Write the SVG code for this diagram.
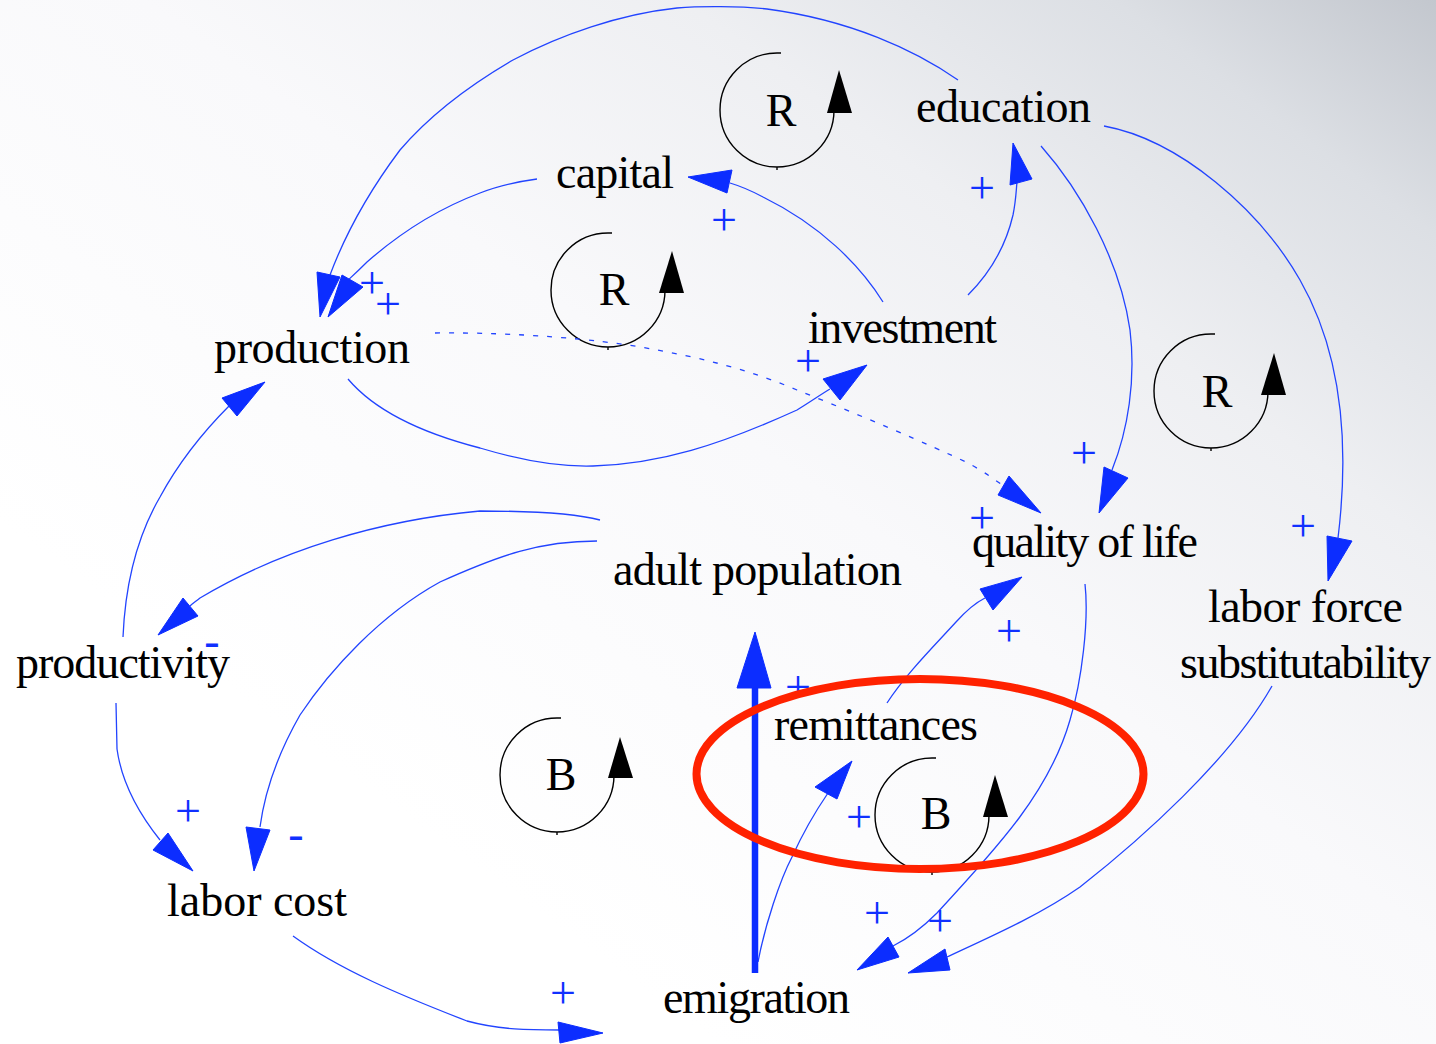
<svg xmlns="http://www.w3.org/2000/svg" width="1436" height="1044" viewBox="0 0 1436 1044">
<defs>
<linearGradient id="bg" x1="1" y1="0" x2="0.25" y2="0.75">
<stop offset="0" stop-color="#c3c7ce"/>
<stop offset="0.15" stop-color="#dcdfe4"/>
<stop offset="0.35" stop-color="#eeeff2"/>
<stop offset="0.6" stop-color="#f9f9fb"/>
<stop offset="1" stop-color="#ffffff"/>
</linearGradient>
<style>
.lbl{font-family:"Liberation Serif","Times New Roman",serif;font-size:46px;fill:#000}
.pol{font-family:"Liberation Serif","Times New Roman",serif;font-size:46px;fill:#1030ff;text-anchor:middle}
.ln{fill:none;stroke:#2244ff;stroke-width:1.3}
.dot{fill:none;stroke:#2244ff;stroke-width:1.3;stroke-dasharray:5 9}
.ah{fill:#0c2dff;stroke:#0c2dff;stroke-width:1;stroke-linejoin:miter}
.loop{fill:none;stroke:#000;stroke-width:1.4}
.lah{fill:#000}
.lt{font-family:"Liberation Serif","Times New Roman",serif;font-size:46px;fill:#000;text-anchor:middle}
</style>
</defs>
<rect x="0" y="0" width="1436" height="1044" fill="url(#bg)"/>

<g id="loops">
<g id="loop-r1">
<path class="loop" d="M781,53 L777,53 A57,57 0 1 0 834,110 L834,113 M777,167 L777,170"/>
<polygon class="lah" points="827,113 852,113 839,70"/>
<text class="lt" x="781" y="126">R</text>
</g>
<g id="loop-r2">
<path class="loop" d="M612,233 L608,233 A57,57 0 1 0 665,290 L665,293 M608,347 L608,350"/>
<polygon class="lah" points="659,293 684,293 672,251"/>
<text class="lt" x="614" y="305">R</text>
</g>
<g id="loop-r3">
<path class="loop" d="M1215,334 L1211,334 A57,57 0 1 0 1268,391 L1268,395 M1211,448 L1211,451"/>
<polygon class="lah" points="1261,395 1286,395 1274,353"/>
<text class="lt" x="1217" y="407">R</text>
</g>
<g id="loop-b1">
<path class="loop" d="M561,718 L557,718 A57,57 0 1 0 614,775 L614,778 M557,832 L557,835"/>
<polygon class="lah" points="608,778 633,778 620,737"/>
<text class="lt" x="561" y="790">B</text>
</g>
<g id="loop-b2">
<path class="loop" d="M936,758 L932,758 A57,57 0 1 0 989,815 L989,817 M932,872 L932,875"/>
<polygon class="lah" points="983,817 1008,817 995,775"/>
<text class="lt" x="936" y="829">B</text>
</g>
</g>

<g id="connectors">
<path class="ln" d="M958,80 C915,50 850,20 767,9 C740,6 700,6 677,8 C620,14 560,35 513,60 C470,85 430,115 400,150 C370,190 345,235 330,275"/>
<polygon class="ah" points="317,272 340,277 320,317"/>
<path class="ln" d="M537,179 C515,182 495,187 480,193 C440,208 400,233 367,262 C355,274 348,280 345,283"/>
<polygon class="ah" points="342,275 363,287 328,317"/>
<path class="ln" d="M883,302 C860,265 820,225 763,197 C750,190 740,186 730,183"/>
<polygon class="ah" points="732,170 727,193 688,177"/>
<path class="ln" d="M968,295 C990,273 1006,245 1013,215 C1016,200 1016,192 1017,182"/>
<polygon class="ah" points="1010,185 1032,179 1013,143"/>
<path class="ln" d="M348,379 C370,405 410,430 480,448 C520,460 560,467 593,466 C660,464 720,445 797,410 C810,402 820,395 830,389"/>
<polygon class="ah" points="823,379 867,365 840,400"/>
<path class="dot" d="M435,333 C520,332 600,340 640,347 C700,357 750,370 797,390 C860,415 930,445 966,462 C985,472 995,480 1005,487"/>
<polygon class="ah" points="998,495 1009,476 1041,513"/>
<path class="ln" d="M1041,146 C1080,190 1120,260 1130,330 C1136,380 1128,430 1112,470"/>
<polygon class="ah" points="1104,467 1128,478 1099,513"/>
<path class="ln" d="M1104,126 C1180,140 1260,210 1300,280 C1340,350 1350,440 1338,538"/>
<polygon class="ah" points="1327,536 1352,541 1328,581"/>
<path class="ln" d="M600,520 C570,512 520,511 480,511 C380,520 280,550 200,598 C195,602 192,604 190,606"/>
<polygon class="ah" points="183,598 198,616 158,635"/>
<path class="ln" d="M597,541 C540,541 500,555 440,582 C380,615 330,670 300,715 C280,750 265,790 260,827"/>
<polygon class="ah" points="246,827 270,830 254,871"/>
<path class="ln" d="M123,637 C125,590 135,540 160,497 C180,460 205,430 230,405"/>
<polygon class="ah" points="222,398 237,416 265,382"/>
<path class="ln" d="M116,703 L117,749 C122,785 140,815 160,840"/>
<polygon class="ah" points="153,850 168,833 193,871"/>
<path class="ln" d="M293,936 C340,970 400,995 467,1021 C500,1030 530,1030 560,1030"/>
<polygon class="ah" points="558,1022 560,1043 603,1033"/>
<path class="ln" d="M758,962 C765,925 780,880 792,857 C802,835 815,812 828,793"/>
<polygon class="ah" points="815,787 837,799 852,761"/>
<path class="ln" d="M887,703 C905,675 935,645 956,622 C965,612 975,603 985,598"/>
<polygon class="ah" points="980,589 993,610 1022,577"/>
<path class="ln" d="M1085,584 C1089,620 1082,680 1070,720 C1050,790 1000,845 937,913 C920,930 905,940 893,946"/>
<polygon class="ah" points="888,937 899,957 857,970"/>
<path class="ln" d="M1272,686 C1230,760 1140,840 1080,887 C1040,915 990,937 947,957"/>
<polygon class="ah" points="945,949 950,970 908,973"/>
<line x1="755" y1="973" x2="755" y2="686" stroke="#0c2dff" stroke-width="6.5"/>
<polygon class="ah" points="737,688 771,688 755,632"/>
</g>

<g id="polarities">
<text class="pol" x="372" y="298">+</text>
<text class="pol" x="388" y="319">+</text>
<text class="pol" x="724" y="235">+</text>
<text class="pol" x="982" y="203">+</text>
<text class="pol" x="808" y="376">+</text>
<text class="pol" x="1084" y="468">+</text>
<text class="pol" x="982" y="533">+</text>
<text class="pol" x="1303" y="541">+</text>
<text class="pol" x="1009" y="646">+</text>
<text class="pol" x="798" y="702">+</text>
<text class="pol" x="859" y="832">+</text>
<text class="pol" x="188" y="826">+</text>
<text class="pol" x="877" y="928">+</text>
<text class="pol" x="940" y="936">+</text>
<text class="pol" x="563" y="1008">+</text>
<text class="pol" x="212" y="656">-</text>
<text class="pol" x="296" y="849">-</text>
</g>

<g id="highlight">
<ellipse cx="920" cy="774" rx="223.5" ry="95" fill="none" stroke="#ff2200" stroke-width="8"/>
</g>

<g id="node-education"><text class="lbl" x="916" y="122" textLength="175">education</text></g>
<g id="node-capital"><text class="lbl" x="556" y="188" textLength="118">capital</text></g>
<g id="node-production"><text class="lbl" x="214" y="363" textLength="196">production</text></g>
<g id="node-investment"><text class="lbl" x="808" y="343" textLength="189">investment</text></g>
<g id="node-quality"><text class="lbl" x="972" y="557" textLength="226">quality of life</text></g>
<g id="node-adult"><text class="lbl" x="613" y="585" textLength="289">adult population</text></g>
<g id="node-productivity"><text class="lbl" x="16" y="678" textLength="214">productivity</text></g>
<g id="node-lfs"><text class="lbl" x="1208" y="622" textLength="195">labor force</text><text class="lbl" x="1180" y="678" textLength="251">substitutability</text></g>
<g id="node-remittances"><text class="lbl" x="774" y="740" textLength="204">remittances</text></g>
<g id="node-laborcost"><text class="lbl" x="167" y="916" textLength="180">labor cost</text></g>
<g id="node-emigration"><text class="lbl" x="663" y="1013" textLength="187">emigration</text></g>
</svg>
